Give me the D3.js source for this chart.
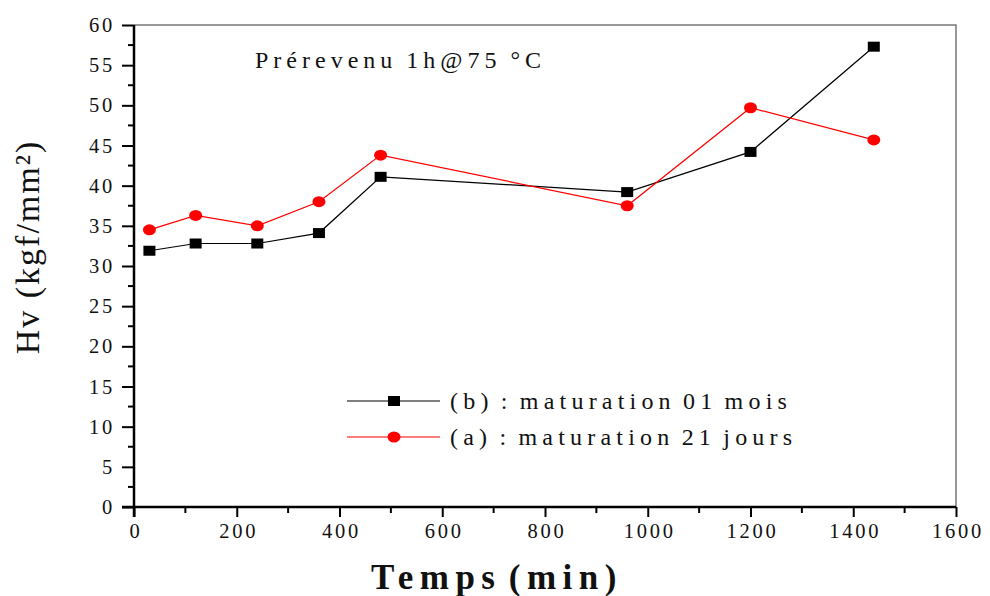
<!DOCTYPE html>
<html lang="fr">
<head>
    <meta charset="UTF-8">
    <title>Hv - Temps</title>
    <style>
        body { margin: 0; background: #fff; }
        text { font-family: "Liberation Serif", "DejaVu Serif", serif; fill: #111; }
        .tick text { font-size: 20.5px; letter-spacing: 2.8px; }
        .axis path, .axis line { stroke: #000; }
    </style>
    <script src="https://cdn.jsdelivr.net/npm/d3@7"></script>
</head>
<body>
<svg class="chart" width="990" height="596"></svg>
<script>
    const
        temps = [30, 120, 240, 360, 480, 960, 1200, 1440],
        hvMois = [31.9, 32.8, 32.8, 34.1, 41.1, 39.2, 44.2, 57.3],
        hvJours = [34.5, 36.3, 35.0, 38.0, 43.8, 37.5, 49.7, 45.7],
        xTicks = [0, 200, 400, 600, 800, 1000, 1200, 1400, 1600],
        yTicks = [0, 5, 10, 15, 20, 25, 30, 35, 40, 45, 50, 55, 60],
        series = [
            {label: '(b) : maturation 01 mois', values: hvMois, color: '#000', shape: 'square'},
            {label: '(a) : maturation 21 jours', values: hvJours, color: '#ff0000', shape: 'circle'}
        ];

    const margin = {top: 25, right: 34, bottom: 89, left: 134},
        width = 990 - margin.left - margin.right,
        height = 596 - margin.top - margin.bottom;

    const svg = d3.select('.chart');
    const g = svg.append('g').attr('transform', 'translate(' + margin.left + ',' + margin.top + ')');

    let x = d3.scaleLinear().domain([0, 1600]).range([0, width]),
        y = d3.scaleLinear().domain([0, 60]).range([height, 0]);

    // cadre haut / droite
    g.append('path')
        .attr('d', 'M0,0H' + width + 'V' + height)
        .attr('fill', 'none').attr('stroke', '#777').attr('stroke-width', 1.5);

    // ticks mineurs
    g.append('g').selectAll('line')
        .data(d3.range(100, 1600, 200)).enter().append('line')
        .attr('x1', d => x(d)).attr('x2', d => x(d))
        .attr('y1', height).attr('y2', height + 6)
        .attr('stroke', '#000').attr('stroke-width', 2);
    g.append('g').selectAll('line')
        .data(d3.range(2.5, 60, 5)).enter().append('line')
        .attr('x1', 0).attr('x2', -6)
        .attr('y1', d => y(d)).attr('y2', d => y(d))
        .attr('stroke', '#000').attr('stroke-width', 2);

    let xAxis = d3.axisBottom(x).tickValues(xTicks).tickFormat(d3.format('d'))
        .tickSize(10).tickSizeOuter(0).tickPadding(6);
    g.append('g').attr('class', 'axis')
        .attr('transform', 'translate(0,' + height + ')')
        .call(xAxis)
        .call(s => s.select('.domain').attr('d', 'M-12,0H' + width).attr('stroke-width', 2.5))
        .call(s => s.selectAll('.tick line').attr('stroke-width', 2))
        .call(s => s.selectAll('.tick text').attr('dx', 1.5));

    let yAxis = d3.axisLeft(y).tickValues(yTicks).tickSize(12).tickSizeOuter(0).tickPadding(7);
    g.append('g').attr('class', 'axis')
        .call(yAxis)
        .call(s => s.select('.domain').attr('d', 'M0,0V' + (height + 10)).attr('stroke-width', 2.5))
        .call(s => s.selectAll('.tick line').attr('stroke-width', 2));

    const line = d3.line().x((d, i) => x(temps[i])).y(d => y(d));

    function marker(sel, s) {
        if (s.shape === 'square') {
            sel.append('rect').attr('x', -6).attr('y', -5).attr('width', 12).attr('height', 10)
                .attr('fill', s.color);
        } else {
            sel.append('ellipse').attr('rx', 6.5).attr('ry', 5.5).attr('fill', s.color);
        }
    }

    series.forEach(s => {
        g.append('path').datum(s.values)
            .attr('d', line)
            .attr('fill', 'none').attr('stroke', s.color).attr('stroke-width', 1.2);
        s.values.forEach((v, i) => {
            g.append('g').attr('transform', 'translate(' + x(temps[i]) + ',' + y(v) + ')')
                .call(marker, s);
        });
    });

    // légende
    const legend = g.append('g').attr('transform', 'translate(213,376)');
    series.forEach((s, i) => {
        const row = legend.append('g').attr('transform', 'translate(0,' + i * 36 + ')');
        row.append('line').attr('x1', 0).attr('x2', 93).attr('stroke', s.color).attr('stroke-width', 1.2);
        row.append('g').attr('transform', 'translate(47,0)').call(marker, s);
        row.append('text').attr('x', 103).attr('y', 8)
            .style('font-size', '24px').style('letter-spacing', '5.2px').style('word-spacing', '-4px')
            .text(s.label);
    });

    g.append('text')
        .attr('x', 121).attr('y', 43)
        .style('font-size', '24px').style('letter-spacing', '5px').style('word-spacing', '-2px')
        .text('Prérevenu 1h@75 °C');

    svg.append('text')
        .attr('transform', 'translate(39,247) rotate(-90)')
        .attr('text-anchor', 'middle')
        .style('font-size', '34px').style('letter-spacing', '2px')
        .text('Hv  (kgf/mm²)');

    svg.append('text')
        .attr('x', 497).attr('y', 589)
        .attr('text-anchor', 'middle')
        .style('font-size', '35px').style('font-weight', 'bold').style('letter-spacing', '6.5px')
        .style('word-spacing', '-8px')
        .text('Temps (min)');
</script>
</body>
</html>
